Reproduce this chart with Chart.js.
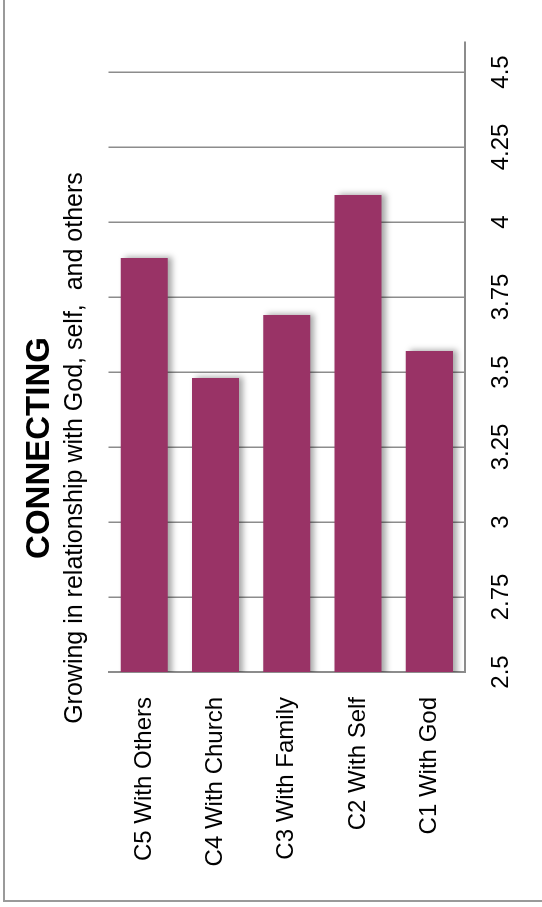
<!DOCTYPE html>
<html>
<head>
<meta charset="utf-8">
<title>CONNECTING</title>
<script src="https://cdn.jsdelivr.net/npm/chart.js@4.4.1/dist/chart.umd.min.js"></script>
<style>
  html, body { margin: 0; padding: 0; background: #fff; }
  body { width: 542px; height: 907px; position: relative; overflow: hidden; }
  /* outer frame, only the left and bottom edges show */
  #frame {
    position: absolute; left: 3px; top: -10px; width: 600px; height: 912px;
    box-sizing: border-box;
    border-left: 2px solid #9a9a9a; border-bottom: 2px solid #9a9a9a;
  }
  /* the chart is laid out as a horizontal bar chart and turned a quarter left */
  #turn {
    position: absolute; left: 0; top: 0; width: 907px; height: 542px;
    transform-origin: 0 0;
    transform: translateY(907px) rotate(-90deg);
  }
</style>
</head>
<body>
<div id="frame"></div>
<div id="turn"><canvas id="connecting" width="907" height="542"></canvas></div>
<script>
const categories = ['C5 With Others', 'C4 With Church', 'C3 With Family', 'C2 With Self', 'C1 With God'];
const scores = [3.88, 3.48, 3.69, 4.09, 3.57];
const scoreTicks = [2.5, 2.75, 3, 3.25, 3.5, 3.75, 4, 4.25, 4.5];
const axisMin = 2.5;
const axisMax = 4.6;

const FONT = '"Liberation Sans", Arial, sans-serif';
const BAR_COLOR = '#993366';
const LINE_COLOR = '#8c8c8c';
const TITLE_SHIFT = 15;

// soft drop shadow under the bars
const barShadow = {
    id: 'barShadow',
    beforeDatasetsDraw(chart) {
        const ctx = chart.ctx;
        ctx.save();
        ctx.shadowColor = 'rgba(0, 0, 0, 0.35)';
        ctx.shadowBlur = 6;
        ctx.shadowOffsetX = 1;
        ctx.shadowOffsetY = 4;
    },
    afterDatasetsDraw(chart) {
        chart.ctx.restore();
    }
};

// nudge title and subtitle a little towards the bar end of the chart
const titleNudge = {
    id: 'titleNudge',
    afterLayout(chart) {
        chart.boxes
            .filter(box => box.options && typeof box.options.text === 'string')
            .forEach(box => {
                box.left += TITLE_SHIFT;
                box.right += TITLE_SHIFT;
            });
    }
};

const data = {
    labels: categories,
    datasets: [{
        label: 'Connecting',
        data: scores,
        backgroundColor: BAR_COLOR,
        borderWidth: 0,
        categoryPercentage: 1,
        barPercentage: 0.66
    }]
};

const config = {
    type: 'bar',
    data: data,
    options: {
        indexAxis: 'y',
        responsive: false,
        animation: false,
        layout: {
            padding: { top: 20, left: 23, right: 42, bottom: 0 }
        },
        plugins: {
            legend: { display: false },
            tooltip: { enabled: false },
            title: {
                display: true,
                text: 'CONNECTING',
                color: '#000',
                font: { family: FONT, size: 33, weight: 'bold' },
                padding: { top: 0, bottom: 1 }
            },
            subtitle: {
                display: true,
                text: 'Growing in relationship with God, self,  and others',
                color: '#000',
                font: { family: FONT, size: 25, weight: 'normal' },
                padding: { top: 0, bottom: 18 }
            }
        },
        scales: {
            x: {
                min: axisMin,
                max: axisMax,
                afterBuildTicks: scale => {
                    scale.ticks = scoreTicks.map(v => ({ value: v }));
                },
                afterFit: scale => { scale.height = 77; },
                grid: {
                    color: LINE_COLOR,
                    lineWidth: 1.5,
                    drawTicks: false
                },
                border: { color: LINE_COLOR, width: 2 },
                ticks: {
                    color: '#000',
                    padding: 22,
                    font: { family: FONT, size: 24 },
                    callback: v => String(v)
                }
            },
            y: {
                afterFit: scale => { scale.width = 212; },
                grid: { display: false, drawTicks: false },
                border: { color: LINE_COLOR, width: 2 },
                ticks: {
                    color: '#000',
                    padding: 25,
                    font: { family: FONT, size: 24 }
                }
            }
        }
    },
    plugins: [barShadow, titleNudge]
};

new Chart(document.getElementById('connecting').getContext('2d'), config);
</script>
</body>
</html>
